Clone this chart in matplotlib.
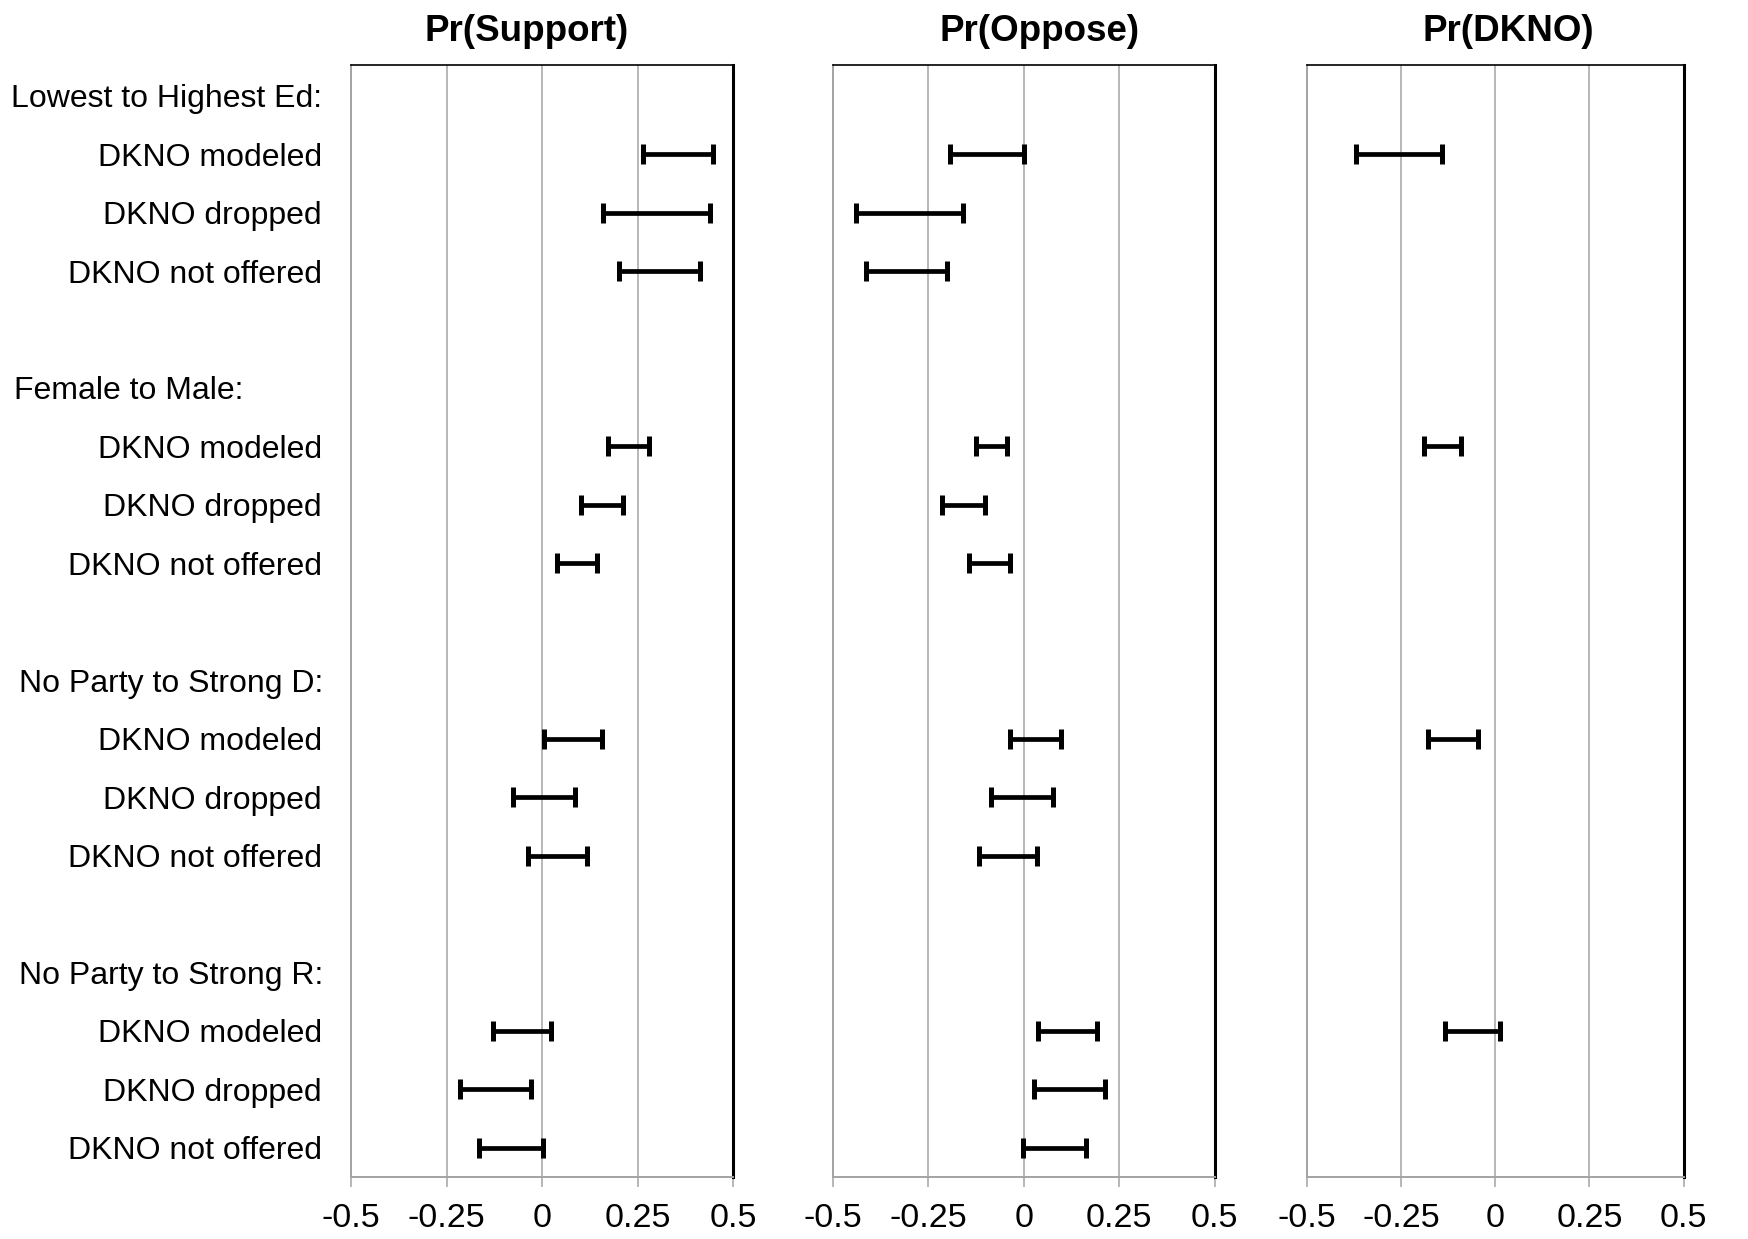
import matplotlib
matplotlib.use("Agg")
import matplotlib.pyplot as plt
from matplotlib.transforms import blended_transform_factory

plt.rcParams['font.family'] = ['Liberation Sans', 'DejaVu Sans']

# =====================================================================
# Data: lower / upper bounds of each interval
# =====================================================================
groups = ["Lowest to Highest Ed:", "Female to Male:",
          "No Party to Strong D:", "No Party to Strong R:"]
rows = ["DKNO modeled", "DKNO dropped", "DKNO not offered"]
panel_titles = ["Pr(Support)", "Pr(Oppose)", "Pr(DKNO)"]
xticks = [-0.5, -0.25, 0, 0.25, 0.5]
xtick_labels = ["-0.5", "-0.25", "0", "0.25", "0.5"]

# order: per group -> modeled, dropped, not offered
support_lo = [0.264, 0.159, 0.202,  0.172, 0.101, 0.038,
              0.005, -0.077, -0.037, -0.129, -0.214, -0.164]
support_hi = [0.448, 0.440, 0.414,  0.280, 0.213, 0.143,
              0.156, 0.087, 0.118,  0.024, -0.030, 0.002]

oppose_lo = [-0.193, -0.440, -0.413, -0.125, -0.213, -0.144,
             -0.036, -0.086, -0.118, 0.037, 0.028, -0.002]
oppose_hi = [0.000, -0.159, -0.201, -0.043, -0.101, -0.036,
             0.098, 0.076, 0.036,  0.192, 0.213, 0.164]

# DKNO only exists when it is modeled
dkno_lo = [-0.368, None, None, -0.190, None, None,
           -0.178, None, None, -0.134, None, None]
dkno_hi = [-0.141, None, None, -0.091, None, None,
           -0.046, None, None, 0.014, None, None]

panel_data = [(support_lo, support_hi), (oppose_lo, oppose_hi), (dkno_lo, dkno_hi)]

# =====================================================================
# Layout: header slot then three rows, with a blank slot between groups
# =====================================================================
row_y = []
row_labels = []
header_y = []
for g, name in enumerate(groups):
    header_y.append(g * 5)
    for r, lab in enumerate(rows):
        row_y.append(g * 5 + 1 + r)
        row_labels.append(lab)

fig = plt.figure(figsize=(17.49, 12.39), dpi=100)
lefts = [0.2007, 0.4761, 0.7471]
widths = [0.2184, 0.2184, 0.2156]
title_x = [0.459, 0.542, 0.534]   # titles sit slightly off-centre in the original
header_x = [0.0065, 0.0078, 0.0108, 0.0108]
bottom, top = 0.050, 0.9478
grid_col = '#a3a3a3'

axes = []
for i, (lo, hi) in enumerate(panel_data):
    ax = fig.add_axes([lefts[i], bottom, widths[i], top - bottom])
    axes.append(ax)

    ys, mids, halfs = [], [], []
    for y, a, b in zip(row_y, lo, hi):
        if a is None:
            continue
        ys.append(y)
        mids.append((a + b) / 2)
        halfs.append((b - a) / 2)

    ax.errorbar(mids, ys, xerr=halfs, fmt='none', ecolor='black',
                elinewidth=3.4, capsize=7, capthick=3.6, zorder=3)

    ax.set_xlim(-0.5, 0.5)
    ax.set_ylim(18.50, -0.53)
    ax.set_xticks(xticks)
    ax.set_xticklabels(xtick_labels, fontsize=24.5)
    ax.tick_params(axis='x', length=7, width=1.1, color=grid_col, pad=12)
    for x in xticks[1:-1]:
        ax.axvline(x, color=grid_col, lw=1.1, zorder=1)

    ax.spines['left'].set_color(grid_col)
    ax.spines['left'].set_linewidth(1.4)
    ax.spines['bottom'].set_color(grid_col)
    ax.spines['bottom'].set_linewidth(1.4)
    ax.spines['top'].set_color('black')
    ax.spines['top'].set_linewidth(1.2)
    ax.spines['right'].set_color('black')
    ax.spines['right'].set_linewidth(2.2)

    ax.set_title(panel_titles[i], fontsize=26.5, fontweight='bold', pad=17,
                 x=title_x[i])

    if i == 0:
        ax.set_yticks(row_y)
        ax.set_yticklabels(row_labels, fontsize=23)
        ax.tick_params(axis='y', length=0, pad=21)
    else:
        ax.set_yticks([])

# group headers, left-aligned near the figure edge
trans = blended_transform_factory(fig.transFigure, axes[0].transData)
for hx, hy, name in zip(header_x, header_y, groups):
    axes[0].text(hx, hy, name, fontsize=23, ha='left', va='center_baseline',
                 transform=trans)

fig.savefig("out.png", dpi=100)
